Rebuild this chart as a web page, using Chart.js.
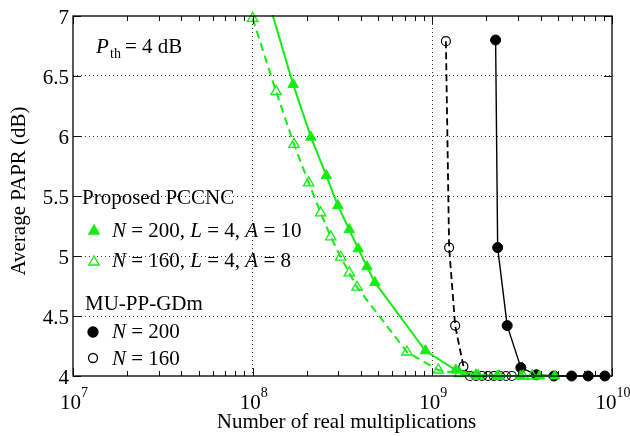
<!DOCTYPE html>
<html>
<head>
<meta charset="utf-8">
<script src="https://cdn.jsdelivr.net/npm/chart.js@4/dist/chart.umd.min.js"></script>
<style>
  html, body { margin: 0; padding: 0; background: #fff; }
  #wrap { width: 630px; height: 436px; position: relative; }
</style>
</head>
<body>
<div id="wrap"><canvas id="papr-chart"></canvas></div>
<script>
// Proposed PCCNC, N = 200, L = 4, A = 10 (first point sits just above the axis top)
const pccnc200X = [1.25e8, 1.68e8, 2.11e8, 2.57e8, 2.98e8, 3.45e8, 3.87e8, 4.33e8, 4.79e8, 9.15e8, 1.35e9, 1.75e9, 2.3e9, 3.1e9, 3.95e9, 4.8e9];
const pccnc200Y = [7.08, 6.43, 5.99, 5.67, 5.42, 5.22, 5.06, 4.91, 4.78, 4.21, 4.05, 4.01, 4.0, 4.0, 4.0, 4.0];

// Proposed PCCNC, N = 160, L = 4, A = 8
const pccnc160X = [1.0e8, 1.35e8, 1.70e8, 2.05e8, 2.39e8, 2.72e8, 3.09e8, 3.45e8, 3.81e8, 7.22e8, 1.08e9, 1.42e9, 1.8e9, 2.35e9, 3.2e9, 3.6e9];
const pccnc160Y = [6.98, 6.37, 5.93, 5.61, 5.36, 5.16, 4.99, 4.86, 4.74, 4.20, 4.05, 4.02, 4.0, 4.0, 4.0, 4.0];

// MU-PP-GDm, N = 200
const mu200X = [2.25e9, 2.31e9, 2.61e9, 3.11e9, 3.8e9, 4.75e9, 5.96e9, 7.37e9, 9.13e9];
const mu200Y = [6.8, 5.07, 4.42, 4.07, 4.01, 4.0, 4.0, 4.0, 4.0];

// MU-PP-GDm, N = 160
const mu160X = [1.19e9, 1.24e9, 1.34e9, 1.49e9, 1.62e9, 1.75e9, 1.89e9, 2.04e9, 2.2e9, 2.38e9, 2.57e9, 2.77e9];
const mu160Y = [6.79, 5.07, 4.42, 4.08, 4.0, 4.0, 4.0, 4.0, 4.0, 4.0, 4.0, 4.0];

// axis ticks
const xDecades = [7, 8, 9, 10];
const yTicks = [4, 4.5, 5, 5.5, 6, 6.5, 7];
const yTickLabels = ["4", "4.5", "5", "5.5", "6", "6.5", "7"];

const GREEN = "#14ec14";
const SERIF = "'Liberation Serif', 'Times New Roman', serif";

function toPoints(xs, ys) {
  return xs.map(function(x, i) { return {x: x, y: ys[i]}; });
}

// every 1..9 x 10^k between the first and last decade
function logTickValues() {
  let vals = [];
  for (let e = xDecades[0]; e < xDecades[xDecades.length - 1]; e++) {
    for (let m = 1; m < 10; m++) vals.push(m * Math.pow(10, e));
  }
  vals.push(Math.pow(10, xDecades[xDecades.length - 1]));
  return vals;
}
const xTickValues = logTickValues();

function isDecade(v) {
  const l = Math.log10(v);
  return Math.abs(l - Math.round(l)) < 1e-9;
}

function drawRuns(ctx, runs, x, y, size) {
  let cx = x;
  runs.forEach(function(r) {
    ctx.font = (r[1] ? "italic " : "") + size + "px " + SERIF;
    ctx.fillText(r[0], cx, y);
    cx += ctx.measureText(r[0]).width;
  });
}

function marker(ctx, kind, x, y, color, filled) {
  ctx.save();
  ctx.beginPath();
  if (kind === "triangle") {
    const r = 6;
    for (let k = 0; k < 3; k++) {
      const a = k * 2 * Math.PI / 3;
      const px = x + Math.sin(a) * r, py = y - Math.cos(a) * r;
      if (k === 0) ctx.moveTo(px, py); else ctx.lineTo(px, py);
    }
    ctx.closePath();
  } else {
    ctx.arc(x, y, filled ? 5 : 4.5, 0, 2 * Math.PI);
  }
  ctx.lineWidth = 1.3;
  ctx.strokeStyle = color;
  if (filled) { ctx.fillStyle = color; ctx.fill(); }
  ctx.stroke();
  ctx.restore();
}

const framePlugin = {
  id: "paprFrame",
  afterDraw(chart) {
    const ctx = chart.ctx;
    const ca = chart.chartArea;
    const xs = chart.scales.x, ys = chart.scales.y;
    ctx.save();

    // tick marks pointing into the plot, on all four sides
    ctx.strokeStyle = "#111";
    ctx.lineWidth = 1;
    ctx.beginPath();
    xTickValues.forEach(function(v) {
      const px = Math.round(xs.getPixelForValue(v)) + 0.5;
      const len = isDecade(v) ? 8 : 5;
      ctx.moveTo(px, ca.bottom); ctx.lineTo(px, ca.bottom - len);
      ctx.moveTo(px, ca.top); ctx.lineTo(px, ca.top + len);
    });
    yTicks.forEach(function(v) {
      const py = Math.round(ys.getPixelForValue(v)) + 0.5;
      ctx.moveTo(ca.left, py); ctx.lineTo(ca.left + 8, py);
      ctx.moveTo(ca.right, py); ctx.lineTo(ca.right - 8, py);
    });
    ctx.stroke();

    // axes box
    ctx.lineWidth = 1.3;
    ctx.strokeStyle = "#000";
    ctx.strokeRect(ca.left, ca.top, ca.right - ca.left, ca.bottom - ca.top);

    ctx.fillStyle = "#000";

    // y tick labels
    ctx.textAlign = "right";
    ctx.textBaseline = "alphabetic";
    ctx.font = "21px " + SERIF;
    yTicks.forEach(function(v, i) {
      ctx.fillText(yTickLabels[i], ca.left - 4, ys.getPixelForValue(v) + 8);
    });

    // x tick labels 10^k
    xDecades.forEach(function(e) {
      const px = xs.getPixelForValue(Math.pow(10, e));
      ctx.font = "21px " + SERIF;
      const wBase = ctx.measureText("10").width;
      ctx.font = "14px " + SERIF;
      const wExp = ctx.measureText(String(e)).width;
      const left = px - (wBase + wExp) / 2 + 1;
      ctx.textAlign = "left";
      ctx.font = "21px " + SERIF;
      ctx.fillText("10", left, ca.bottom + 33);
      ctx.font = "14px " + SERIF;
      ctx.fillText(String(e), left + wBase, ca.bottom + 21);
    });

    // axis titles
    ctx.font = "21px " + SERIF;
    ctx.textAlign = "center";
    ctx.fillText("Number of real multiplications", (ca.left + ca.right) / 2 + 4, ca.bottom + 52);
    ctx.save();
    ctx.translate(25, (ca.top + ca.bottom) / 2 - 5);
    ctx.rotate(-Math.PI / 2);
    ctx.fillText("Average PAPR (dB)", 0, 0);
    ctx.restore();

    // threshold note
    ctx.textAlign = "left";
    drawRuns(ctx, [["P", true]], ca.left + 23, ca.top + 37, 21);
    ctx.font = "14px " + SERIF;
    ctx.fillText("th", ca.left + 37, ca.top + 42);
    ctx.font = "21px " + SERIF;
    ctx.fillText("= 4 dB", ca.left + 52, ca.top + 37);

    // grouped legend
    const lx = ca.left + 9;
    const tx = lx + 30;
    ctx.font = "21px " + SERIF;
    ctx.fillText("Proposed PCCNC", lx, 204);
    marker(ctx, "triangle", lx + 12, 231, GREEN, true);
    drawRuns(ctx, [["N", true], [" = 200, ", false], ["L", true], [" = 4, ", false], ["A", true], [" = 10", false]], tx, 237, 21);
    marker(ctx, "triangle", lx + 12, 262, GREEN, false);
    drawRuns(ctx, [["N", true], [" = 160, ", false], ["L", true], [" = 4, ", false], ["A", true], [" = 8", false]], tx, 267, 21);

    ctx.font = "21px " + SERIF;
    ctx.fillText("MU-PP-GDm", lx + 3, 310);
    marker(ctx, "circle", lx + 11, 332, "#000", true);
    drawRuns(ctx, [["N", true], [" = 200", false]], tx, 338, 21);
    marker(ctx, "circle", lx + 11, 358, "#000", false);
    drawRuns(ctx, [["N", true], [" = 160", false]], tx, 365, 21);

    ctx.restore();
  }
};

const gridColorX = function(c) {
  const v = c.tick ? c.tick.value : 0;
  if (!isDecade(v)) return "rgba(0,0,0,0)";
  const l = Math.round(Math.log10(v));
  if (l === xDecades[0] || l === xDecades[xDecades.length - 1]) return "rgba(0,0,0,0)";
  return "#333";
};
const gridColorY = function(c) {
  const v = c.tick ? c.tick.value : 0;
  if (v <= yTicks[0] || v >= yTicks[yTicks.length - 1]) return "rgba(0,0,0,0)";
  return "#333";
};

new Chart(document.getElementById("papr-chart"), {
  type: "line",
  data: {
    datasets: [
      {
        label: "N = 200, L = 4, A = 10",
        data: toPoints(pccnc200X, pccnc200Y),
        borderColor: GREEN,
        borderWidth: 2,
        pointStyle: "triangle",
        pointRadius: 6,
        pointBackgroundColor: GREEN,
        pointBorderColor: GREEN,
        pointBorderWidth: 1,
        clip: {left: false, right: false, bottom: false, top: 1},
      },
      {
        label: "N = 160, L = 4, A = 8",
        data: toPoints(pccnc160X, pccnc160Y),
        borderColor: GREEN,
        borderWidth: 2,
        borderDash: [8, 5],
        pointStyle: "triangle",
        pointRadius: 6,
        pointBackgroundColor: "rgba(0,0,0,0)",
        pointBorderColor: GREEN,
        pointBorderWidth: 1.3,
        clip: false,
      },
      {
        label: "MU-PP-GDm N = 200",
        data: toPoints(mu200X, mu200Y),
        borderColor: "#000",
        borderWidth: 1.4,
        pointStyle: "circle",
        pointRadius: 5,
        pointBackgroundColor: "#000",
        pointBorderColor: "#000",
        pointBorderWidth: 1,
        clip: false,
      },
      {
        label: "MU-PP-GDm N = 160",
        data: toPoints(mu160X, mu160Y),
        borderColor: "#000",
        borderWidth: 1.8,
        borderDash: [7, 4],
        pointStyle: "circle",
        pointRadius: 4.5,
        pointBackgroundColor: "rgba(0,0,0,0)",
        pointBorderColor: "#000",
        pointBorderWidth: 1.2,
        clip: false,
      },
    ]
  },
  options: {
    responsive: true,
    maintainAspectRatio: false,
    animation: false,
    layout: { padding: { left: 73, top: 16, right: 18, bottom: 60 } },
    plugins: { legend: { display: false }, tooltip: { enabled: false } },
    scales: {
      x: {
        type: "logarithmic",
        min: Math.pow(10, xDecades[0]),
        max: Math.pow(10, xDecades[xDecades.length - 1]),
        afterBuildTicks: function(scale) {
          scale.ticks = xTickValues.map(function(v) { return {value: v}; });
        },
        ticks: { display: false },
        grid: { drawTicks: false, color: gridColorX, lineWidth: 1 },
        border: { display: false, dash: [1, 3] },
      },
      y: {
        type: "linear",
        min: yTicks[0],
        max: yTicks[yTicks.length - 1],
        ticks: { display: false, stepSize: 0.5 },
        grid: { drawTicks: false, color: gridColorY, lineWidth: 1 },
        border: { display: false, dash: [1, 3] },
      }
    }
  },
  plugins: [framePlugin]
});
</script>
</body>
</html>
